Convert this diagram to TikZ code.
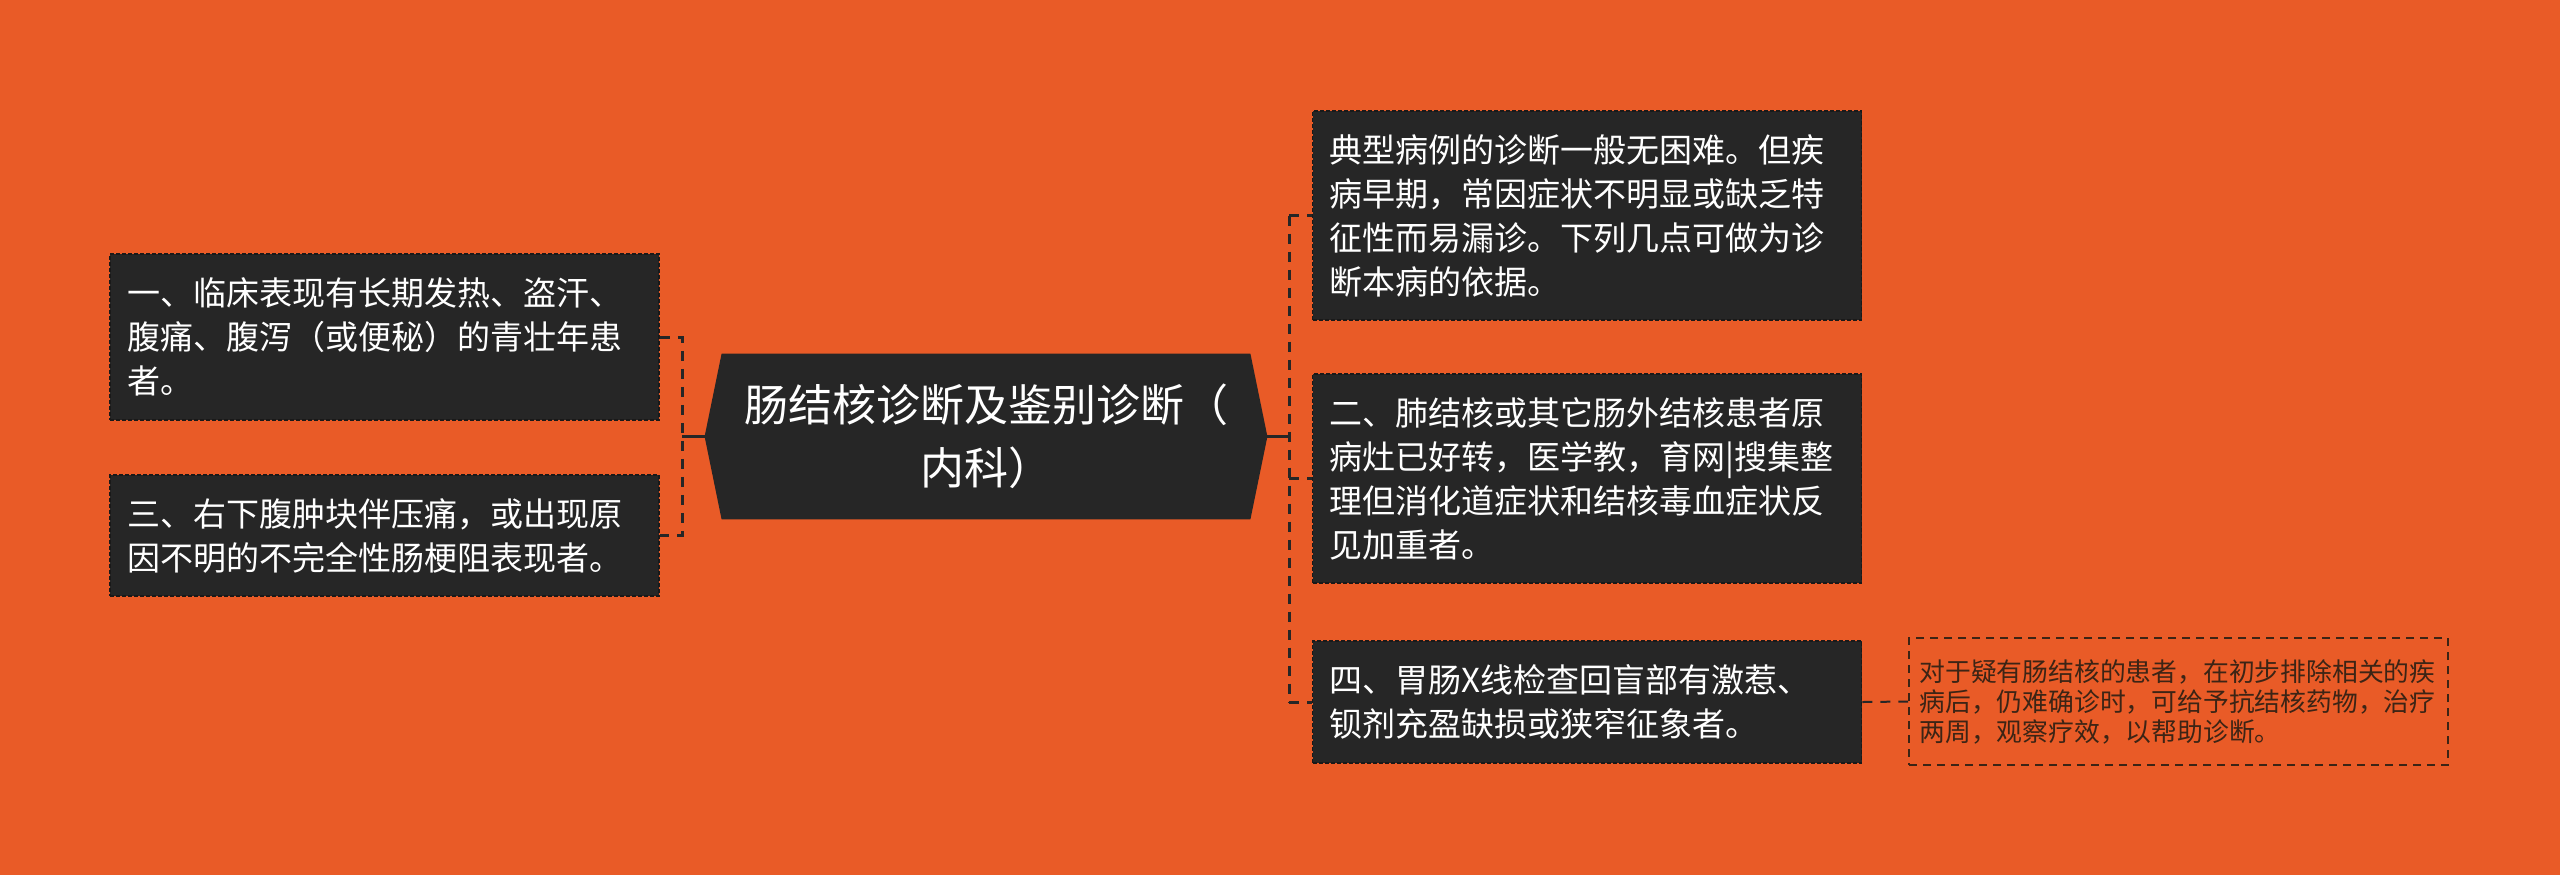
\documentclass[tikz,border=0pt]{standalone}
\usepackage{fontspec}
\setmainfont{Noto Sans CJK SC}
\usetikzlibrary{backgrounds}
\definecolor{bgorange}{HTML}{E95B27}
\definecolor{boxdark}{HTML}{262626}
\definecolor{notetext}{HTML}{3C2415}

\begin{document}
\begin{tikzpicture}[x=0.5pt, y=-0.5pt,
	box/.style={rectangle, fill=boxdark, draw=black!90, dash pattern=on 2pt off 1pt, line width=0.8pt, text=white, align=left, text width=257.5pt, inner xsep=8.5pt, inner ysep=0pt, font=\fontsize{16.5pt}{22pt}\selectfont},
	notebox/.style={rectangle, draw=notetext, dash pattern=on 4pt off 3pt, line width=0.9pt, text=notetext, align=left, text width=259pt, inner xsep=5.25pt, inner ysep=0pt, minimum height=63.5pt, font=\fontsize{12.9pt}{15pt}\selectfont},
	link/.style={draw=boxdark, line width=1.5pt, dash pattern=on 5pt off 4pt},
	solidlink/.style={draw=boxdark, line width=1.5pt}]
	\begin{scope}[on background layer]
		\fill[bgorange] (0,0) rectangle (2560,875);
	\end{scope}

	% centre
	\node[rectangle, minimum width=281pt, minimum height=82.5pt, inner sep=0pt, text=white, align=center, font=\fontsize{22pt}{31.5pt}\selectfont] at (986,436.5) (root) {肠结核诊断及鉴别诊断（\\内科）};
	\begin{scope}[on background layer]
		\fill[boxdark] (root.west) -- ([xshift=8.5pt]root.north west) -- ([xshift=-8.5pt]root.north east) -- (root.east) -- ([xshift=-8.5pt]root.south east) -- ([xshift=8.5pt]root.south west) -- cycle;
	\end{scope}

	% left side
	\node[box, minimum height=83pt] at (384.5,337) (L1) {一、临床表现有长期发热、盗汗、\\腹痛、腹泻（或便秘）的青壮年患\\者。};
	\node[box, minimum height=60.5pt] at (384.5,535.5) (L2) {三、右下腹肿块伴压痛，或出现原\\因不明的不完全性肠梗阻表现者。};
	\coordinate (ljoin) at (682,436.5);
	\draw[solidlink] (root.west) -- (ljoin);
	\draw[link] (L1.east) -- (L1.east -| ljoin) -- (L2.east -| ljoin) -- (L2.east);

	% right side
	\node[box, minimum height=104.5pt] at (1587,215.5) (R1) {典型病例的诊断一般无困难。但疾\\病早期，常因症状不明显或缺乏特\\征性而易漏诊。下列几点可做为诊\\断本病的依据。};
	\node[box, minimum height=104.5pt] at (1587,478.5) (R2) {二、肺结核或其它肠外结核患者原\\病灶已好转，医学教，育网|搜集整\\理但消化道症状和结核毒血症状反\\见加重者。};
	\node[box, minimum height=61pt] at (1587,702) (R3) {四、胃肠X线检查回盲部有激惹、\\钡剂充盈缺损或狭窄征象者。};
	\coordinate (rjoin) at (1289,436.5);
	\draw[solidlink] (root.east) -- (rjoin);
	\draw[link] (R1.west -| rjoin) -- (R3.west -| rjoin);
	\draw[link] (R1.west -| rjoin) -- (R1.west);
	\draw[link] (R2.west -| rjoin) -- (R2.west);
	\draw[link] (R3.west -| rjoin) -- (R3.west);

	% note
	\node[notebox] at (2178.5,701.5) (tip) {对于疑有肠结核的患者，在初步排除相关的疾\\病后，仍难确诊时，可给予抗结核药物，治疗\\两周，观察疗效，以帮助诊断。};
	\draw[link, line width=1pt] (R3.east) -- (tip.west);
\end{tikzpicture}
\end{document}
